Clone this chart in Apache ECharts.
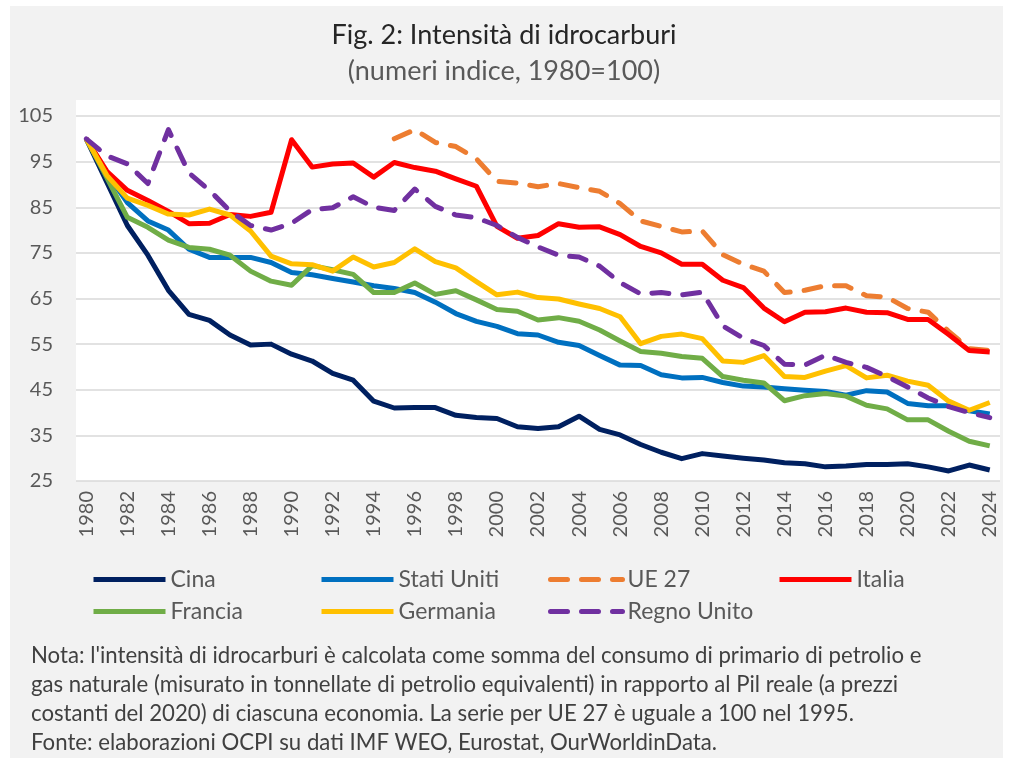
<!DOCTYPE html>
<html>
<head>
<meta charset="utf-8">
<script src="https://cdn.jsdelivr.net/npm/echarts@6/dist/echarts.min.js"></script>
<style>
  html, body { margin: 0; padding: 0; background: #fff; }
  #chart { width: 1011px; height: 765px; }
</style>
</head>
<body>
<div id="chart"></div>
<script>
// years and series (index 1980 = 100; UE 27 starts 1995)
var years = [];
for (var y = 1980; y <= 2024; y++) years.push(String(y));

var cina = [100, 90.5, 81, 74.5, 66.8, 61.5, 60.2, 57, 54.8, 55,
    52.8, 51.3, 48.6, 47.1, 42.5, 41, 41.1, 41.1, 39.4, 38.9,
    38.7, 36.9, 36.5, 36.9, 39.2, 36.3, 35.1, 33, 31.3, 29.9,
    31, 30.5, 30, 29.6, 29, 28.8, 28.1, 28.3, 28.6, 28.6,
    28.8, 28.1, 27.2, 28.5, 27.4];
var statiUniti = [100, 92.5, 86, 82, 80, 75.8, 74, 74, 74, 72.9,
    70.7, 70.2, 69.4, 68.6, 67.8, 67.2, 66.3, 64.2, 61.7, 60,
    58.9, 57.3, 57, 55.4, 54.7, 52.5, 50.4, 50.3, 48.3, 47.6,
    47.7, 46.6, 45.8, 45.6, 45.2, 44.9, 44.6, 43.8, 44.8, 44.5,
    42, 41.5, 41.5, 40.4, 39.7];
var ue27 = [null, null, null, null, null, null, null, null, null, null,
    null, null, null, null, null, 100, 102, 99.2, 98.3, 95.6,
    90.7, 90.3, 89.5, 90.2, 89.3, 88.5, 85.8, 82, 80.8, 79.6,
    79.8, 74.6, 72.5, 71, 66.3, 66.8, 67.8, 67.8, 65.6, 65.3,
    62.8, 62, 57.8, 54, 53.6];
var italia = [100, 92.9, 88.7, 86.5, 84.1, 81.4, 81.5, 83.4, 83, 83.9,
    99.8, 93.8, 94.5, 94.7, 91.6, 94.8, 93.7, 92.9, 91.2, 89.6,
    80.8, 78.2, 78.8, 81.4, 80.6, 80.7, 79, 76.4, 75, 72.5,
    72.5, 69, 67.4, 62.9, 59.9, 62, 62.1, 62.9, 62, 61.9,
    60.4, 60.4, 57.1, 53.6, 53.3];
var francia = [100, 91.5, 82.8, 80.6, 77.8, 76.2, 75.8, 74.5, 71, 68.8,
    67.9, 72.2, 71.3, 70.3, 66.3, 66.3, 68.4, 65.9, 66.7, 64.7,
    62.6, 62.2, 60.3, 60.8, 60, 58.1, 55.7, 53.4, 53, 52.3,
    51.9, 47.9, 47.1, 46.5, 42.6, 43.7, 44.2, 43.6, 41.6, 40.8,
    38.4, 38.4, 35.9, 33.7, 32.7];
var germania = [100, 92, 87, 85.4, 83.5, 83.3, 84.6, 83.3, 79.8, 74.3,
    72.6, 72.4, 71, 74.1, 71.9, 72.9, 75.9, 73.1, 71.7, 68.7,
    65.8, 66.4, 65.2, 64.9, 63.8, 62.8, 61, 55.1, 56.7, 57.2,
    56.2, 51.3, 51, 52.5, 47.9, 47.7, 49.1, 50.3, 47.6, 48.2,
    46.9, 46, 42.5, 40.5, 42.2];
var regnoUnito = [100, 96.3, 94.5, 90.2, 102, 92.5, 88.7, 84.2, 81, 80,
    81.5, 84.5, 84.9, 87.3, 85, 84.3, 89, 85.2, 83.3, 82.7,
    81, 78.4, 76.3, 74.5, 74.1, 72.1, 68.5, 66, 66.3, 65.8,
    66.4, 59, 56.3, 54.7, 50.6, 50.4, 52.6, 51, 49.9, 47.9,
    45.6, 43.2, 41.3, 40, 38.9];

var yTicks = { min: 25, max: 105, step: 10 };

var noteLines = [
    "Nota: l'intensità di idrocarburi è calcolata come somma del consumo di primario di petrolio e",
    "gas naturale (misurato in tonnellate di petrolio equivalenti) in rapporto al Pil reale (a prezzi",
    "costanti del 2020) di ciascuna economia. La serie per UE 27 è uguale a 100 nel 1995.",
    "Fonte: elaborazioni OCPI su dati IMF WEO, Eurostat, OurWorldinData."
];

var FONT = 'Lato, "Open Sans", sans-serif';

function line(name, data, color, dashed) {
    return {
        name: name,
        type: 'line',
        data: data,
        symbol: 'none',
        lineStyle: {
            color: color,
            width: 5,
            type: dashed ? [17, 14] : 'solid',
            cap: dashed ? 'round' : 'butt',
            join: 'round'
        },
        itemStyle: { color: color }
    };
}

// one legend per entry so columns sit on a fixed grid like the original
var legendPos = [
    ['Cina', 91, 568], ['Stati Uniti', 319, 568], ['UE 27', 548, 568], ['Italia', 777, 568],
    ['Francia', 91, 600], ['Germania', 319, 600], ['Regno Unito', 548, 600]
];
var legends = legendPos.map(function (p) {
    return {
        data: [p[0]], left: p[1], top: p[2], padding: 0,
        itemWidth: 72, itemHeight: 20, itemGap: 0,
        itemStyle: { opacity: 0 },
        lineStyle: { width: 5 },
        textStyle: { color: '#595959', fontSize: 23, fontFamily: FONT }
    };
});

var chart = echarts.init(document.getElementById('chart'));

chart.setOption({
    backgroundColor: '#ffffff',
    animation: false,
    title: [{
        text: 'Fig. 2: Intensità di idrocarburi',
        left: 499, top: 17, textAlign: 'center',
        textStyle: { fontFamily: FONT, fontSize: 27, fontWeight: 'normal', color: '#262626' }
    }, {
        text: '(numeri indice, 1980=100)',
        left: 499, top: 53, textAlign: 'center',
        textStyle: { fontFamily: FONT, fontSize: 27, fontWeight: 'normal', color: '#595959' }
    }],
    graphic: [{
        type: 'rect', z: -20, silent: true,
        shape: { x: 10, y: 6, width: 993, height: 752 },
        style: { fill: '#f2f2f2' }
    }, {
        type: 'rect', z: -10, silent: true,
        shape: { x: 76, y: 100, width: 924, height: 381 },
        style: { fill: '#ffffff' }
    }].concat(noteLines.map(function (t, i) {
        return {
            type: 'text', left: 31, top: 645 + i * 29,
            style: { text: t, fontFamily: FONT, fontSize: 22.2, fill: '#404040' }
        };
    })),
    legend: legends,
    grid: { left: 76, right: 11, top: 116, bottom: 284 },
    xAxis: {
        type: 'category',
        data: years,
        boundaryGap: true,
        axisLine: { show: false },
        axisTick: { show: false },
        axisLabel: {
            interval: 1, rotate: 90, margin: 10,
            fontFamily: FONT, fontSize: 20, color: '#595959'
        }
    },
    yAxis: {
        type: 'value',
        min: yTicks.min, max: yTicks.max, interval: yTicks.step,
        axisLine: { show: false },
        axisTick: { show: false },
        splitLine: { lineStyle: { color: '#d9d9d9', width: 1.5 } },
        axisLabel: { margin: 23, fontFamily: FONT, fontSize: 20, color: '#595959' }
    },
    series: [
        line('Cina', cina, '#002060'),
        line('Stati Uniti', statiUniti, '#0070c0'),
        line('UE 27', ue27, '#ed7d31', true),
        line('Italia', italia, '#ff0000'),
        line('Francia', francia, '#70ad47'),
        line('Germania', germania, '#ffc000'),
        line('Regno Unito', regnoUnito, '#7030a0', true)
    ]
});
</script>
</body>
</html>
